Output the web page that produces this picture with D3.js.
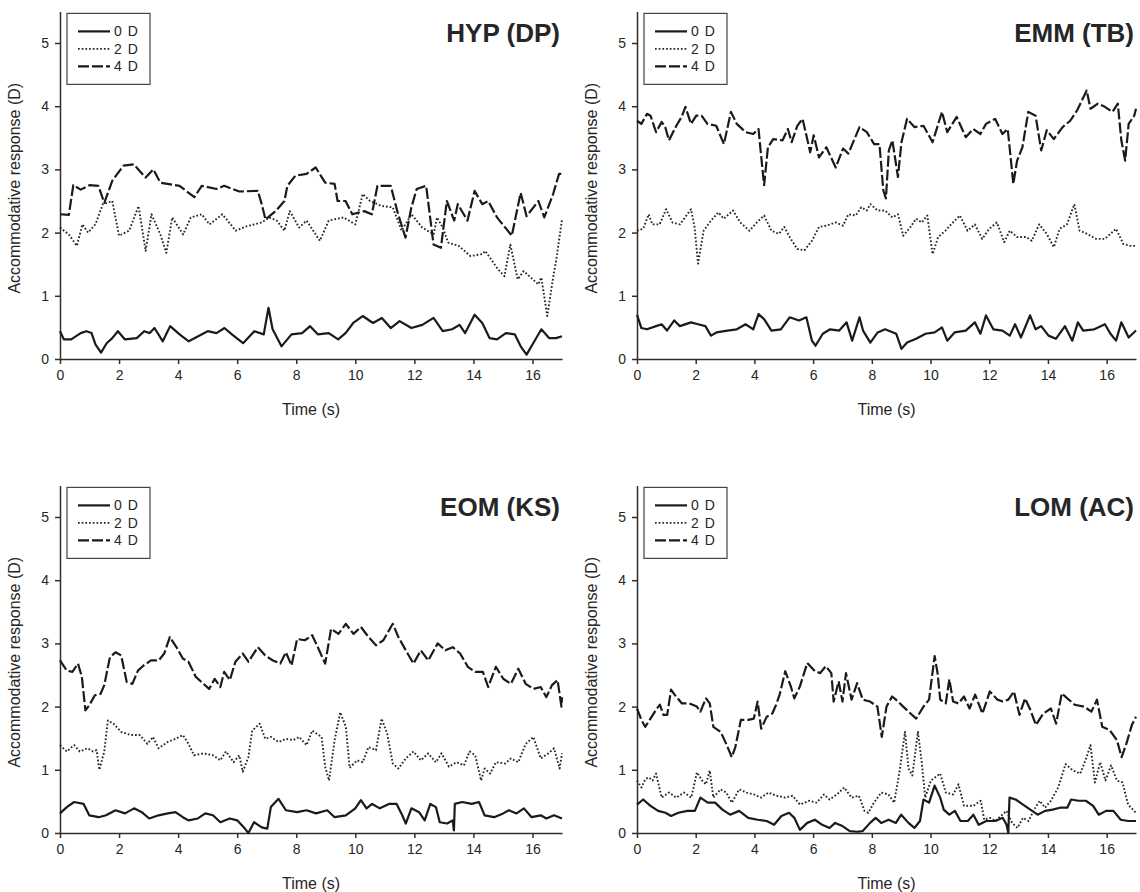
<!DOCTYPE html>
<html>
<head>
<meta charset="utf-8">
<script src="https://cdn.jsdelivr.net/npm/d3@7"></script>
<style>
  body { margin: 0; background: #fff; }
  svg { display: block; }
  text { font-family: "Liberation Sans", Arial, Helvetica, sans-serif; fill: #262626; }
</style>
</head>
<body>
<svg id="chart" width="1140" height="892"></svg>
<script>
// Accommodative response traces, [time (s), response (D)], per subject and target vergence

// HYP (DP)
const hyp0 = [[0,0.44],[0.13,0.31],[0.38,0.31],[0.7,0.41],[0.89,0.44],[1.07,0.41],[1.2,0.23],[1.39,0.1],[1.58,0.25],[1.77,0.33],[1.96,0.44],[2.2,0.31],[2.6,0.33],[2.85,0.44],[3.04,0.41],[3.2,0.49],[3.48,0.28],[3.73,0.52],[4.05,0.39],[4.36,0.28],[4.68,0.36],[5.0,0.44],[5.3,0.41],[5.57,0.49],[5.82,0.39],[6.2,0.25],[6.58,0.44],[6.9,0.39],[7.06,0.81],[7.2,0.47],[7.5,0.2],[7.84,0.39],[8.2,0.41],[8.47,0.52],[8.73,0.39],[9.1,0.41],[9.42,0.31],[9.67,0.41],[9.93,0.57],[10.25,0.68],[10.6,0.57],[10.9,0.65],[11.2,0.49],[11.5,0.6],[11.9,0.49],[12.27,0.54],[12.65,0.65],[12.96,0.44],[13.28,0.47],[13.53,0.54],[13.72,0.41],[14.04,0.7],[14.3,0.57],[14.55,0.33],[14.8,0.31],[15.1,0.41],[15.4,0.39],[15.6,0.2],[15.8,0.07],[16.0,0.23],[16.3,0.47],[16.57,0.33],[16.8,0.33],[17,0.36]];
const hyp2 = [[0,2.08],[0.3,1.97],[0.57,1.79],[0.76,2.13],[0.95,2.0],[1.2,2.13],[1.45,2.45],[1.77,2.5],[2.0,1.95],[2.34,2.03],[2.66,2.42],[2.9,1.71],[3.1,2.29],[3.4,1.97],[3.6,1.68],[3.8,2.24],[4.17,1.97],[4.43,2.24],[4.8,2.29],[5.06,2.13],[5.5,2.29],[5.95,2.03],[6.32,2.1],[6.83,2.16],[7.08,2.24],[7.34,2.19],[7.6,2.03],[7.78,2.34],[8.1,2.08],[8.35,2.19],[8.8,1.87],[9.1,2.19],[9.6,2.24],[10.0,2.13],[10.25,2.61],[10.5,2.5],[10.9,2.42],[11.27,2.4],[11.57,2.03],[11.9,2.29],[12.27,2.08],[12.65,1.97],[12.77,2.24],[12.96,2.08],[13.15,1.84],[13.5,1.79],[13.9,1.63],[14.3,1.66],[14.4,1.71],[14.8,1.44],[15.05,1.31],[15.25,1.81],[15.5,1.26],[15.7,1.39],[15.94,1.29],[16.2,1.18],[16.3,1.29],[16.5,0.68],[16.7,1.29],[16.8,1.55],[17,2.21]];
const hyp4 = [[0,2.29],[0.3,2.28],[0.45,2.75],[0.7,2.68],[1.0,2.75],[1.3,2.74],[1.5,2.47],[1.77,2.82],[2.15,3.06],[2.5,3.08],[2.9,2.87],[3.16,3.0],[3.4,2.79],[4.05,2.74],[4.55,2.56],[4.8,2.74],[5.3,2.69],[5.56,2.74],[6.07,2.65],[6.7,2.66],[6.83,2.45],[6.96,2.21],[7.3,2.34],[7.6,2.5],[7.7,2.74],[7.97,2.9],[8.35,2.93],[8.66,3.03],[8.98,2.79],[9.3,2.77],[9.4,2.5],[9.67,2.5],[9.9,2.29],[10.3,2.34],[10.56,2.29],[10.75,2.74],[11.2,2.74],[11.45,2.29],[11.7,1.92],[11.9,2.4],[12.08,2.69],[12.4,2.74],[12.65,1.81],[12.9,1.76],[13.1,2.5],[13.35,2.19],[13.47,2.45],[13.8,2.19],[14.04,2.66],[14.3,2.45],[14.5,2.5],[14.8,2.24],[15.3,1.95],[15.6,2.63],[15.8,2.26],[16.2,2.5],[16.4,2.24],[16.7,2.61],[16.9,2.93],[17,2.93]];

// EMM (TB)
const emm0 = [[0,0.7],[0.15,0.49],[0.34,0.47],[0.65,0.52],[0.84,0.55],[1.02,0.45],[1.27,0.61],[1.46,0.52],[1.84,0.58],[2.08,0.55],[2.33,0.52],[2.52,0.37],[2.71,0.42],[3.08,0.45],[3.4,0.47],[3.7,0.55],[3.96,0.47],[4.14,0.71],[4.33,0.63],[4.58,0.45],[4.9,0.47],[5.2,0.66],[5.52,0.61],[5.77,0.66],[5.96,0.29],[6.08,0.21],[6.33,0.4],[6.58,0.47],[6.89,0.45],[7.14,0.58],[7.33,0.29],[7.58,0.66],[7.7,0.45],[7.95,0.26],[8.2,0.42],[8.45,0.47],[8.83,0.4],[9.01,0.16],[9.2,0.26],[9.51,0.32],[9.83,0.4],[10.14,0.42],[10.39,0.5],[10.57,0.29],[10.82,0.42],[11.2,0.45],[11.51,0.58],[11.7,0.4],[11.89,0.69],[12.14,0.47],[12.45,0.45],[12.7,0.37],[12.88,0.55],[13.08,0.34],[13.39,0.69],[13.58,0.47],[13.77,0.52],[14.02,0.37],[14.27,0.32],[14.58,0.52],[14.83,0.29],[15.02,0.58],[15.2,0.45],[15.58,0.47],[15.94,0.55],[16.13,0.4],[16.32,0.29],[16.5,0.58],[16.75,0.34],[17,0.45]];
const emm2 = [[0,2.03],[0.21,2.06],[0.4,2.29],[0.52,2.13],[0.77,2.13],[0.99,2.37],[1.21,2.16],[1.46,2.13],[1.84,2.37],[1.96,2.09],[2.08,1.51],[2.27,2.03],[2.52,2.19],[2.77,2.32],[2.96,2.22],[3.27,2.35],[3.52,2.16],[3.83,2.03],[4.08,2.16],[4.33,2.27],[4.58,2.03],[4.83,1.98],[5.02,2.09],[5.2,1.93],[5.46,1.74],[5.7,1.72],[5.96,1.87],[6.2,2.09],[6.45,2.11],[6.77,2.16],[7.02,2.11],[7.2,2.29],[7.45,2.27],[7.64,2.4],[7.83,2.35],[7.95,2.45],[8.2,2.35],[8.45,2.35],[8.7,2.24],[8.89,2.29],[9.07,1.95],[9.32,2.09],[9.51,2.22],[9.7,2.16],[9.89,2.27],[10.07,1.66],[10.26,1.93],[10.51,2.03],[10.7,2.13],[11.0,2.27],[11.26,2.03],[11.51,2.13],[11.76,1.9],[12.0,2.06],[12.26,2.16],[12.51,1.85],[12.7,2.03],[12.95,1.93],[13.26,1.93],[13.45,1.87],[13.7,2.13],[13.96,1.98],[14.2,1.77],[14.4,2.06],[14.65,2.13],[14.9,2.45],[15.08,2.03],[15.33,1.98],[15.64,1.9],[15.94,1.9],[16.32,2.06],[16.57,1.82],[16.82,1.79],[17,1.79]];
const emm4 = [[0,3.77],[0.15,3.72],[0.34,3.88],[0.46,3.85],[0.65,3.59],[0.84,3.75],[0.96,3.67],[1.09,3.46],[1.34,3.69],[1.52,3.83],[1.65,3.99],[1.84,3.72],[2.02,3.85],[2.2,3.85],[2.4,3.72],[2.7,3.69],[2.96,3.4],[3.2,3.91],[3.4,3.72],[3.7,3.59],[3.96,3.56],[4.14,3.64],[4.2,3.35],[4.33,2.75],[4.46,3.35],[4.64,3.48],[4.96,3.46],[5.14,3.64],[5.27,3.43],[5.46,3.69],[5.64,3.8],[5.77,3.54],[5.9,3.27],[6.02,3.54],[6.2,3.19],[6.45,3.35],[6.58,3.22],[6.77,3.03],[7.02,3.33],[7.2,3.25],[7.39,3.46],[7.58,3.67],[7.83,3.59],[8.08,3.4],[8.26,3.4],[8.39,2.67],[8.48,2.54],[8.58,3.3],[8.7,3.46],[8.89,2.88],[9.01,3.43],[9.2,3.8],[9.45,3.67],[9.76,3.69],[10.07,3.43],[10.39,3.91],[10.57,3.59],[10.89,3.83],[11.2,3.51],[11.45,3.64],[11.7,3.56],[11.89,3.72],[12.2,3.8],[12.45,3.56],[12.63,3.64],[12.82,2.77],[12.95,3.14],[13.13,3.35],[13.33,3.91],[13.58,3.85],[13.77,3.3],[13.96,3.62],[14.2,3.48],[14.5,3.67],[14.76,3.77],[15.0,3.94],[15.32,4.25],[15.45,3.96],[15.7,4.04],[15.94,3.99],[16.2,3.91],[16.38,4.04],[16.5,3.46],[16.63,3.14],[16.75,3.72],[16.94,3.85],[17,3.96]];

// EOM (KS)
const eom0 = [[0,0.31],[0.23,0.41],[0.48,0.49],[0.8,0.46],[0.99,0.28],[1.31,0.25],[1.56,0.28],[1.88,0.36],[2.2,0.31],[2.51,0.39],[2.77,0.33],[3.02,0.23],[3.34,0.28],[3.65,0.31],[3.91,0.33],[4.16,0.25],[4.35,0.2],[4.67,0.23],[4.92,0.31],[5.18,0.28],[5.43,0.17],[5.75,0.23],[6.0,0.2],[6.26,0.07],[6.38,0.0],[6.57,0.17],[6.83,0.09],[7.02,0.07],[7.14,0.41],[7.4,0.54],[7.65,0.36],[8.03,0.33],[8.35,0.36],[8.67,0.31],[9.05,0.36],[9.3,0.25],[9.68,0.28],[10.0,0.39],[10.19,0.52],[10.38,0.39],[10.57,0.46],[10.83,0.39],[11.14,0.46],[11.4,0.46],[11.59,0.28],[11.71,0.15],[11.9,0.39],[12.16,0.33],[12.35,0.2],[12.54,0.46],[12.73,0.41],[12.86,0.17],[13.11,0.15],[13.3,0.2],[13.34,0.04],[13.37,0.46],[13.62,0.49],[13.94,0.46],[14.19,0.49],[14.38,0.28],[14.7,0.25],[15.01,0.31],[15.2,0.36],[15.46,0.31],[15.71,0.39],[15.97,0.25],[16.28,0.28],[16.47,0.23],[16.73,0.28],[17,0.23]];
const eom2 = [[0,1.39],[0.23,1.29],[0.48,1.39],[0.67,1.29],[0.93,1.34],[1.12,1.29],[1.24,1.31],[1.33,1.0],[1.5,1.29],[1.62,1.78],[1.81,1.73],[2.07,1.6],[2.39,1.55],[2.7,1.55],[2.96,1.41],[3.15,1.52],[3.34,1.34],[3.65,1.44],[3.91,1.49],[4.16,1.55],[4.35,1.41],[4.54,1.23],[4.86,1.26],[5.18,1.23],[5.43,1.15],[5.62,1.29],[5.88,1.12],[6.07,1.23],[6.19,0.97],[6.38,1.2],[6.51,1.62],[6.76,1.73],[6.95,1.49],[7.14,1.52],[7.4,1.44],[7.65,1.49],[7.9,1.47],[8.1,1.52],[8.35,1.39],[8.54,1.62],[8.86,1.52],[8.98,1.05],[9.11,0.83],[9.3,1.47],[9.49,1.91],[9.68,1.68],[9.81,1.03],[10.06,1.15],[10.25,1.12],[10.45,1.36],[10.7,1.31],[10.89,1.81],[11.08,1.57],[11.27,1.1],[11.46,1.02],[11.71,1.18],[11.97,1.29],[12.22,1.15],[12.47,1.26],[12.73,1.12],[12.92,1.26],[13.17,1.05],[13.43,1.12],[13.68,1.07],[13.87,1.29],[14.06,1.23],[14.26,0.83],[14.38,1.02],[14.57,0.94],[14.76,1.12],[15.08,1.1],[15.27,1.18],[15.52,1.12],[15.77,1.41],[16.03,1.52],[16.28,1.18],[16.54,1.26],[16.73,1.34],[16.92,1.02],[17,1.26]];
const eom4 = [[0,2.73],[0.23,2.57],[0.42,2.55],[0.61,2.68],[0.74,2.47],[0.86,1.94],[0.99,2.02],[1.18,2.18],[1.37,2.2],[1.5,2.34],[1.69,2.78],[1.88,2.86],[2.07,2.81],[2.26,2.39],[2.45,2.36],[2.64,2.57],[2.83,2.65],[3.08,2.73],[3.34,2.73],[3.53,2.84],[3.72,3.1],[3.97,2.92],[4.16,2.76],[4.35,2.71],[4.6,2.47],[4.86,2.36],[5.05,2.28],[5.24,2.44],[5.43,2.31],[5.56,2.55],[5.75,2.42],[5.94,2.71],[6.19,2.84],[6.38,2.71],[6.7,2.94],[6.95,2.81],[7.21,2.73],[7.46,2.68],[7.65,2.86],[7.84,2.65],[8.03,3.07],[8.29,3.05],[8.54,3.13],[8.73,2.94],[8.98,2.68],[9.18,3.23],[9.43,3.15],[9.68,3.31],[9.94,3.15],[10.19,3.26],[10.45,3.1],[10.7,2.97],[10.95,3.05],[11.27,3.31],[11.46,3.1],[11.71,2.89],[11.97,2.68],[12.22,2.89],[12.47,2.73],[12.79,3.0],[13.05,2.89],[13.3,2.94],[13.55,2.84],[13.81,2.63],[14.06,2.55],[14.32,2.55],[14.5,2.31],[14.76,2.63],[15.01,2.44],[15.27,2.36],[15.52,2.6],[15.77,2.36],[16.03,2.28],[16.28,2.31],[16.47,2.15],[16.66,2.34],[16.85,2.42],[16.98,2.0],[17,2.15]];

// LOM (AC)
const lom0 = [[0,0.45],[0.21,0.53],[0.46,0.43],[0.72,0.35],[0.97,0.32],[1.16,0.27],[1.41,0.32],[1.72,0.35],[1.97,0.35],[2.16,0.56],[2.41,0.48],[2.66,0.48],[2.91,0.37],[3.17,0.29],[3.48,0.35],[3.79,0.24],[4.11,0.21],[4.42,0.19],[4.67,0.13],[4.92,0.27],[5.18,0.32],[5.36,0.24],[5.55,0.05],[5.8,0.16],[6.06,0.21],[6.31,0.13],[6.56,0.08],[6.75,0.16],[7.0,0.11],[7.25,0.03],[7.5,0.02],[7.69,0.03],[7.94,0.16],[8.13,0.24],[8.32,0.16],[8.57,0.21],[8.82,0.16],[9.0,0.29],[9.25,0.16],[9.45,0.08],[9.64,0.19],[9.76,0.53],[9.95,0.48],[10.14,0.75],[10.33,0.56],[10.45,0.37],[10.64,0.29],[10.83,0.35],[11.02,0.19],[11.27,0.19],[11.46,0.29],[11.64,0.13],[11.9,0.19],[12.21,0.19],[12.46,0.24],[12.59,0.13],[12.65,0.0],[12.69,0.56],[12.9,0.53],[13.15,0.45],[13.4,0.37],[13.65,0.29],[13.9,0.35],[14.16,0.37],[14.41,0.4],[14.66,0.4],[14.79,0.53],[15.04,0.51],[15.29,0.51],[15.54,0.43],[15.73,0.29],[15.98,0.35],[16.23,0.35],[16.48,0.21],[16.73,0.19],[17,0.19]];
const lom2 = [[0,0.83],[0.15,0.72],[0.28,0.85],[0.4,0.88],[0.53,0.83],[0.65,0.94],[0.84,0.56],[1.09,0.64],[1.34,0.56],[1.6,0.64],[1.85,0.56],[2.04,0.96],[2.22,0.83],[2.35,0.77],[2.48,0.99],[2.6,0.56],[2.85,0.69],[3.04,0.64],[3.23,0.48],[3.48,0.69],[3.73,0.64],[3.98,0.61],[4.23,0.56],[4.48,0.64],[4.74,0.59],[5.05,0.56],[5.3,0.59],[5.55,0.45],[5.87,0.51],[6.12,0.48],[6.37,0.61],[6.56,0.53],[6.81,0.61],[7.06,0.72],[7.31,0.56],[7.56,0.59],[7.75,0.35],[7.88,0.32],[8.07,0.48],[8.32,0.64],[8.57,0.61],[8.76,0.48],[8.94,0.96],[9.13,1.6],[9.25,1.02],[9.38,0.91],[9.57,1.6],[9.7,1.12],[9.82,0.56],[10.01,0.83],[10.33,0.94],[10.52,0.64],[10.77,0.61],[10.95,0.77],[11.14,0.43],[11.46,0.43],[11.71,0.51],[11.83,0.21],[12.02,0.24],[12.21,0.19],[12.4,0.27],[12.59,0.35],[12.78,0.16],[12.96,0.08],[13.15,0.24],[13.34,0.19],[13.53,0.37],[13.72,0.51],[13.9,0.4],[14.1,0.51],[14.35,0.72],[14.6,1.09],[14.85,0.99],[15.1,0.94],[15.28,1.15],[15.45,1.39],[15.6,0.8],[15.78,1.12],[15.96,0.83],[16.15,1.07],[16.35,0.83],[16.54,0.8],[16.73,0.45],[17,0.32]];
const lom4 = [[0,1.97],[0.15,1.79],[0.28,1.68],[0.46,1.81],[0.65,1.95],[0.78,2.03],[0.9,1.87],[1.03,1.87],[1.16,2.27],[1.28,2.19],[1.53,2.05],[1.78,2.05],[2.04,2.0],[2.16,1.92],[2.35,2.13],[2.48,2.05],[2.6,1.68],[2.85,1.6],[3.04,1.41],[3.23,1.2],[3.35,1.36],[3.54,1.79],[3.79,1.79],[3.98,1.81],[4.11,2.08],[4.23,1.65],[4.42,1.84],[4.61,1.89],[4.74,2.03],[4.86,2.19],[5.05,2.56],[5.24,2.32],[5.36,2.13],[5.55,2.32],[5.8,2.69],[6.06,2.56],[6.24,2.53],[6.43,2.64],[6.62,2.53],[6.7,2.08],[6.87,2.4],[7.0,2.08],[7.12,2.53],[7.31,2.11],[7.5,2.37],[7.69,2.11],[7.94,2.08],[8.19,2.0],[8.34,1.52],[8.5,2.0],[8.69,2.16],[8.82,2.11],[9.07,2.0],[9.32,1.89],[9.51,1.81],[9.76,2.0],[9.95,2.11],[10.14,2.8],[10.24,2.53],[10.33,2.11],[10.52,2.05],[10.64,2.43],[10.77,2.08],[10.95,2.05],[11.14,2.16],[11.33,1.97],[11.52,2.19],[11.77,1.89],[12.02,2.24],[12.28,2.11],[12.46,2.08],[12.65,2.11],[12.84,2.24],[13.03,1.87],[13.22,2.13],[13.4,1.95],[13.59,1.71],[13.84,1.89],[14.1,1.97],[14.28,1.73],[14.47,2.21],[14.66,2.13],[14.91,2.03],[15.23,2.0],[15.48,1.92],[15.67,2.11],[15.85,1.68],[16.1,1.63],[16.35,1.47],[16.51,1.2],[16.67,1.41],[16.86,1.71],[17,1.84]];

// Axis ticks and labels
const xTicks = [0, 2, 4, 6, 8, 10, 12, 14, 16];
const yTicks = [0, 1, 2, 3, 4, 5];
const xDomain = [0, 17];
const yDomain = [0, 5.5];
const legendLabels = ["0 D", "2 D", "4 D"];
const panelTitles = ["HYP (DP)", "EMM (TB)", "EOM (KS)", "LOM (AC)"];
const xTitle = "Time (s)";
const yTitle = "Accommodative response (D)";

// Plot frames (pixel boxes of each axis area)
const frames = [
  { left: 60,  right: 562,  top: 11.4,  bottom: 359 },
  { left: 637, right: 1136, top: 11.4,  bottom: 359 },
  { left: 60,  right: 562,  top: 485.4, bottom: 833 },
  { left: 637, right: 1136, top: 485.4, bottom: 833 }
];
const panelSeries = [[hyp0, hyp2, hyp4], [emm0, emm2, emm4], [eom0, eom2, eom4], [lom0, lom2, lom4]];

// Line styles: solid, dotted, long-dashed
const styles = [
  { dash: null,      width: 2.2, color: "#1a1a1a" },
  { dash: "1.7,2",   width: 1.9, color: "#262626" },
  { dash: "11,3",    width: 2.2, color: "#1a1a1a" }
];

const svg = d3.select("#chart");

frames.forEach((f, i) => {
  const x = d3.scaleLinear().domain(xDomain).range([f.left, f.right]);
  const y = d3.scaleLinear().domain(yDomain).range([f.bottom, f.top]);
  const g = svg.append("g");

  // axes
  const xAxis = g.append("g")
    .attr("transform", `translate(0,${f.bottom})`)
    .call(d3.axisBottom(x).tickValues(xTicks).tickSize(5).tickSizeOuter(0).tickPadding(6).tickFormat(d3.format("d")));
  const yAxis = g.append("g")
    .attr("transform", `translate(${f.left},0)`)
    .call(d3.axisLeft(y).tickValues(yTicks).tickSize(5).tickSizeOuter(0).tickPadding(6).tickFormat(d3.format("d")));
  [xAxis, yAxis].forEach(a => {
    a.select(".domain").attr("stroke", "#2e2e2e").attr("stroke-width", 1.5);
    a.selectAll(".tick line").attr("stroke", "#2e2e2e").attr("stroke-width", 1.5);
    a.selectAll(".tick text")
      .style("font-family", '"Liberation Sans", Arial, sans-serif')
      .style("font-size", "14px").attr("fill", "#262626");
  });

  // traces
  const line = d3.line().x(d => x(d[0])).y(d => y(d[1]));
  panelSeries[i].forEach((s, k) => {
    const st = styles[k];
    g.append("path")
      .datum(s)
      .attr("d", line)
      .attr("fill", "none")
      .attr("stroke", st.color)
      .attr("stroke-width", st.width)
      .attr("stroke-linejoin", "round")
      .attr("stroke-dasharray", st.dash);
  });

  // legend
  const lx = f.left + 7, ly = f.top + 2;
  const lg = g.append("g");
  lg.append("rect")
    .attr("x", lx).attr("y", ly).attr("width", 83).attr("height", 71)
    .attr("fill", "#fff").attr("stroke", "#444").attr("stroke-width", 1.2);
  legendLabels.forEach((lab, k) => {
    const yy = ly + 18 + k * 17.5;
    const st = styles[k];
    lg.append("line")
      .attr("x1", lx + 11).attr("x2", lx + 43).attr("y1", yy).attr("y2", yy)
      .attr("stroke", st.color).attr("stroke-width", st.width)
      .attr("stroke-dasharray", st.dash);
    lg.append("text")
      .attr("x", lx + 47).attr("y", yy + 5)
      .style("font-size", "14px").style("letter-spacing", "1px")
      .text(lab);
  });

  // titles
  g.append("text")
    .attr("x", f.right - 2).attr("y", f.top + 31)
    .attr("text-anchor", "end")
    .style("font-size", "26px").style("font-weight", "bold")
    .attr("fill", "#1a1a1a")
    .text(panelTitles[i]);

  g.append("text")
    .attr("x", (f.left + f.right) / 2).attr("y", f.bottom + 56)
    .attr("text-anchor", "middle")
    .style("font-size", "16px")
    .text(xTitle);

  g.append("text")
    .attr("transform", `translate(${f.left - 40},${(f.top + f.bottom) / 2 + 3}) rotate(-90)`)
    .attr("text-anchor", "middle")
    .style("font-size", "16px")
    .text(yTitle);
});
</script>
</body>
</html>
